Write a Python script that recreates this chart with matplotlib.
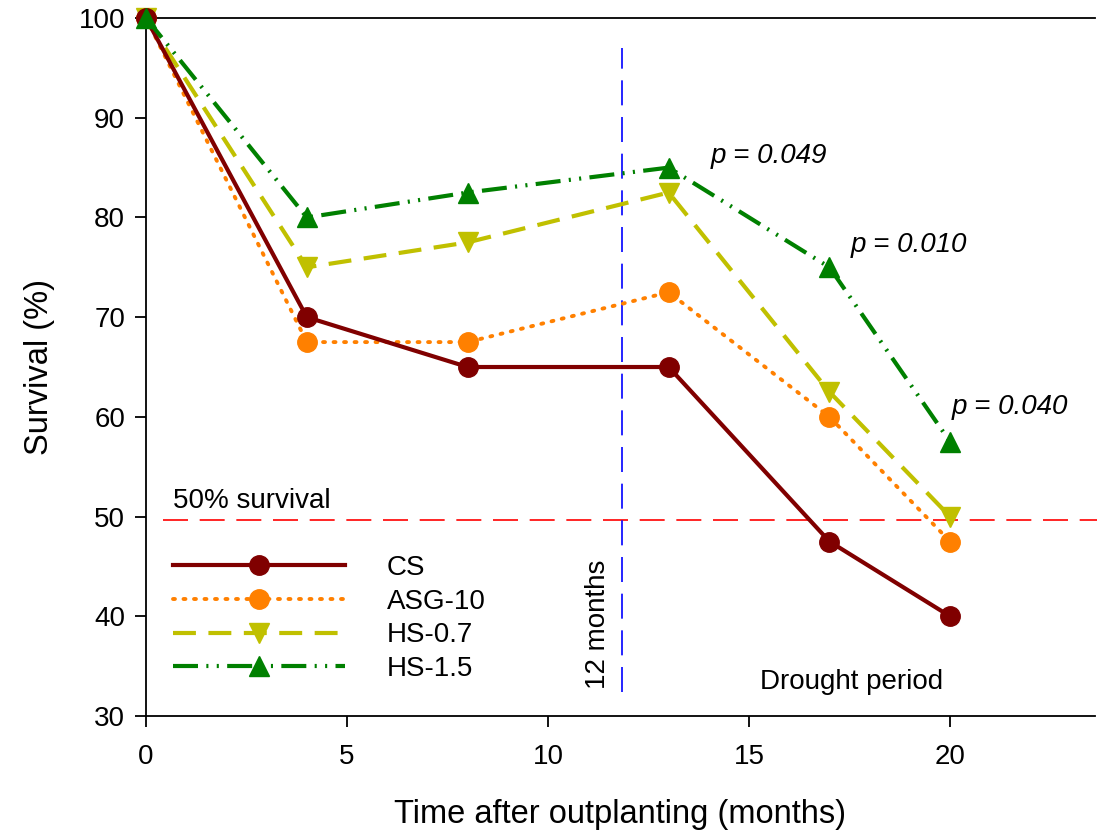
import matplotlib.pyplot as plt

plt.rcParams["font.family"] = ["Liberation Sans", "DejaVu Sans"]

# Dane
months = [0, 4, 8, 13, 17, 20]
cs = [100, 70, 65, 65, 47.5, 40]
asg10 = [100, 67.5, 67.5, 72.5, 60, 47.5]
hs07 = [100, 75, 77.5, 82.5, 62.5, 50]
hs15 = [100, 80, 82.5, 85, 75, 57.5]

p_labels = ["p = 0.049", "p = 0.010", "p = 0.040"]
p_pos = [(14.04, 85.5), (17.52, 76.5), (20.05, 60.3)]

fig = plt.figure(figsize=(10.97, 8.31), dpi=100)
ax = fig.add_axes([0.1331, 0.1384, 0.8649, 0.8399])

ax.plot(months, cs, color="#800000", lw=3, ls="-", marker="o", ms=14,
        label="CS", clip_on=False, zorder=4)
ax.plot(months, asg10, color="#FF8000", lw=2.8, ls=(0, (0.5, 2.2)),
        dash_capstyle="round", marker="o", ms=14, label="ASG-10",
        clip_on=False, zorder=3)
ax.plot(months, hs07, color="#C0C000", lw=3, ls=(0, (5.5, 3)),
        marker="v", ms=14, label="HS-0.7", clip_on=False, zorder=3)
ax.plot(months, hs15, color="#008000", lw=3, ls=(0, (6, 2, 0.5, 2, 0.5, 2)),
        marker="^", ms=14, label="HS-1.5", clip_on=False, zorder=5)

# linie pomocnicze
ax.plot([0.43, 23.7], [49.7, 49.7], color="red", lw=1.2, ls=(0, (15, 7)),
        clip_on=False)
ax.plot([11.83, 11.83], [32.4, 97.0], color="blue", lw=1.2, ls=(0, (15, 7)))

ax.text(0.67, 50.9, "50% survival", fontsize=20)
ax.text(11.25, 39.2, "12 months", fontsize=20, rotation=90, ha="center",
        va="center")
ax.text(17.54, 33.4, "Drought period", fontsize=20, ha="center", va="center")
for lab, (x, y) in zip(p_labels, p_pos):
    ax.text(x, y, lab, fontsize=20, style="italic")

ax.set_xlim(0, 23.6)
ax.set_ylim(30, 100)
ax.set_xticks([0, 5, 10, 15, 20])
ax.set_yticks(range(30, 101, 10))
ax.spines["right"].set_visible(False)
for s in ["left", "bottom", "top"]:
    ax.spines[s].set_linewidth(1.3)
ax.tick_params(direction="out", length=8, width=1.3, labelsize=20)
ax.tick_params(axis="y", pad=7)
ax.tick_params(axis="x", pad=12)

ax.set_xlabel("Time after outplanting (months)", fontsize=23.5, labelpad=21)
ax.set_ylabel("Survival (%)", fontsize=23.5, labelpad=17)

ax.legend(loc="upper left", bbox_to_anchor=(0.0285, 0.231), frameon=False,
          fontsize=20, handlelength=6.2, handletextpad=1.5,
          labelspacing=0.28, borderaxespad=0, borderpad=0)

fig.savefig("out.png", dpi=100)
